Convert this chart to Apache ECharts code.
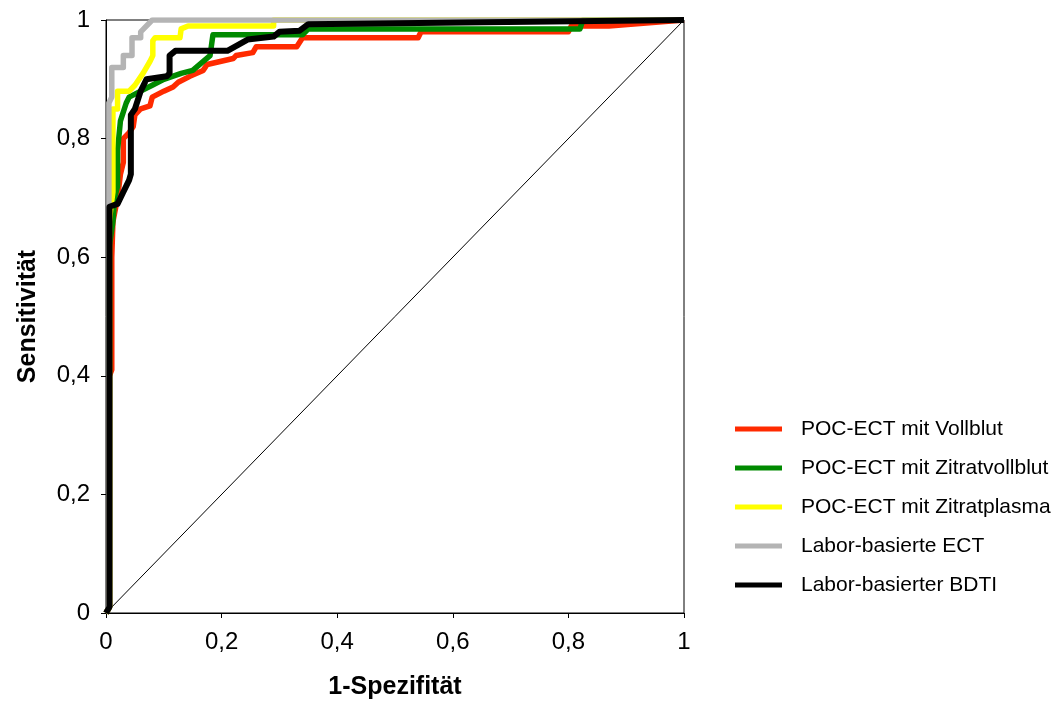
<!DOCTYPE html>
<html>
<head>
<meta charset="utf-8">
<script src="https://cdn.jsdelivr.net/npm/echarts@6/dist/echarts.min.js"></script>
<style>
html,body{margin:0;padding:0;background:#fff;}
#chart{width:1061px;height:706px;}
</style>
</head>
<body>
<div id="chart"></div>
<script>
const seriesNames = ['POC-ECT mit Vollblut','POC-ECT mit Zitratvollblut','POC-ECT mit Zitratplasma','Labor-basierte ECT','Labor-basierter BDTI'];
const xTicks = [0, 0.2, 0.4, 0.6, 0.8, 1];
const yTicks = [0, 0.2, 0.4, 0.6, 0.8, 1];

const vollblut = [[0,0],[0.006,0.01],[0.006,0.40],[0.01,0.41],[0.01,0.60],[0.012,0.66],[0.02,0.70],[0.025,0.74],[0.03,0.76],[0.03,0.80],[0.04,0.81],[0.047,0.82],[0.05,0.84],[0.06,0.85],[0.076,0.855],[0.08,0.87],[0.1,0.88],[0.116,0.887],[0.125,0.895],[0.145,0.905],[0.168,0.915],[0.175,0.925],[0.22,0.935],[0.225,0.94],[0.254,0.945],[0.26,0.955],[0.33,0.955],[0.34,0.97],[0.54,0.97],[0.545,0.98],[0.80,0.98],[0.805,0.99],[0.87,0.99],[1,1]];
const zitratvollblut = [[0,0],[0.006,0.01],[0.006,0.62],[0.012,0.66],[0.015,0.70],[0.02,0.72],[0.02,0.78],[0.025,0.83],[0.035,0.86],[0.04,0.87],[0.06,0.88],[0.08,0.89],[0.10,0.90],[0.13,0.91],[0.15,0.915],[0.18,0.94],[0.185,0.975],[0.34,0.975],[0.35,0.985],[0.82,0.985],[0.825,1],[1,1]];
const zitratplasma = [[0,0],[0.006,0.01],[0.006,0.66],[0.008,0.68],[0.012,0.71],[0.012,0.85],[0.02,0.85],[0.02,0.88],[0.04,0.88],[0.05,0.89],[0.064,0.91],[0.076,0.93],[0.081,0.94],[0.081,0.965],[0.085,0.97],[0.128,0.97],[0.13,0.985],[0.142,0.99],[0.29,0.99],[0.29,1],[1,1]];
const laborECT = [[0,0],[0.005,0.01],[0.005,0.86],[0.01,0.87],[0.01,0.92],[0.03,0.92],[0.03,0.94],[0.045,0.94],[0.045,0.97],[0.06,0.97],[0.06,0.98],[0.08,1.0],[1,1]];
const laborBDTI = [[0,0],[0.006,0.01],[0.006,0.685],[0.02,0.69],[0.03,0.71],[0.04,0.73],[0.043,0.74],[0.043,0.84],[0.05,0.85],[0.06,0.88],[0.07,0.9],[0.105,0.905],[0.11,0.91],[0.11,0.94],[0.12,0.948],[0.21,0.948],[0.245,0.967],[0.29,0.972],[0.3,0.98],[0.335,0.982],[0.35,0.993],[1,1]];
const diagonal = [[0,0],[1,1]];

const colors = ['#FF2A00','#008A00','#FFFF00','#B4B4B4','#000000'];
const widths = [5.5, 5.5, 5.5, 5.5, 6];
const dataSets = [vollblut, zitratvollblut, zitratplasma, laborECT, laborBDTI];

const chart = echarts.init(document.getElementById('chart'));
const fmt = v => String(v).replace('.', ',');
const font = '"Liberation Sans", Arial, sans-serif';

const series = [{
  type:'line', name:'diag', data: diagonal, showSymbol:false, silent:true,
  lineStyle:{color:'#000', width:1}, z:1
}];
dataSets.forEach((d,i) => {
  series.push({
    type:'line', name: seriesNames[i], data: d, showSymbol:false,
    lineStyle:{color: colors[i], width: widths[i], join:'round'}, itemStyle:{color: colors[i]},
    z: 2+i
  });
});

chart.setOption({
  animation:false,
  backgroundColor:'#fff',
  grid:{left:106, right:377, top:20, bottom:93, show:true, borderColor:'#000', borderWidth:1, backgroundColor:'transparent'},
  xAxis:{
    type:'value', min:0, max:1, interval:0.2,
    name:'1-Spezifität', nameLocation:'middle', nameGap:62,
    nameTextStyle:{fontFamily:font, fontSize:25, fontWeight:'bold', color:'#000'},
    axisLine:{show:true, lineStyle:{color:'#000', width:1}},
    axisTick:{show:true, length:5, lineStyle:{color:'#000'}},
    axisLabel:{fontFamily:font, fontSize:24, color:'#000', margin:17, formatter: v => fmt(v), customValues: xTicks},
    splitLine:{show:false}
  },
  yAxis:{
    type:'value', min:0, max:1, interval:0.2,
    name:'Sensitivität', nameLocation:'middle', nameGap:65,
    nameTextStyle:{fontFamily:font, fontSize:25, fontWeight:'bold', color:'#000'},
    axisLine:{show:true, lineStyle:{color:'#000', width:1}},
    axisTick:{show:true, length:5, lineStyle:{color:'#000'}},
    axisLabel:{fontFamily:font, fontSize:24, color:'#000', margin:16, formatter: v => fmt(v), customValues: yTicks},
    splitLine:{show:false}
  },
  legend:{
    orient:'vertical', left:735, top:418, padding:0,
    data: seriesNames,
    icon:'rect', itemWidth:47, itemHeight:5, itemGap:17,
    textStyle:{fontFamily:font, fontSize:21, color:'#000', lineHeight:22, padding:[0,0,0,14]}
  },
  series: series
});
</script>
</body>
</html>
